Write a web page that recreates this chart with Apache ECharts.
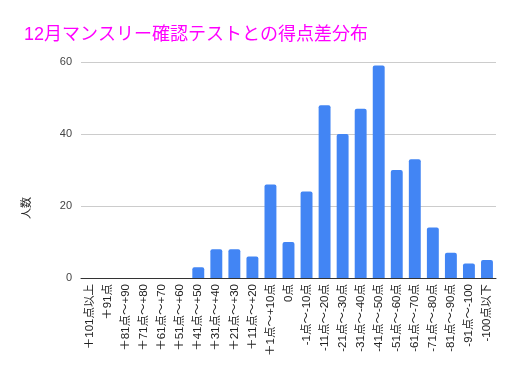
<!DOCTYPE html>
<html><head><meta charset="utf-8">
<script src="https://cdn.jsdelivr.net/npm/echarts@6/dist/echarts.min.js"></script>
<style>html,body{margin:0;padding:0;background:#fff}#c{width:518px;height:379px}</style>
</head><body><div id="c"></div>
<script>
const categories = ['＋101点以上','＋91点','＋81点～+90','＋71点～+80','＋61点～+70','＋51点～+60','＋41点～+50','＋31点～+40','＋21点～+30','＋11点～+20','＋1点～+10点','0点','-1点～-10点','-11点～-20点','-21点～-30点','-31点～-40点','-41点～-50点','-51点～-60点','-61点～-70点','-71点～-80点','-81点～-90点','-91点～-100','-100点以下'];
const counts = [0,0,0,0,0,0,3,8,8,6,26,10,24,48,40,47,59,30,33,14,7,4,5];
const yTicks = [0,20,40,60];
const titleText = '12月マンスリー確認テストとの得点差分布';
const yName = '人数';
const FONT = '"Liberation Sans", Arial, "Noto Sans CJK JP", sans-serif';
const chart = echarts.init(document.getElementById('c'));
chart.setOption({
  animation:false,
  textStyle:{fontFamily:FONT},
  title:{text:titleText,left:19,top:21,textStyle:{color:'#ff00ff',fontSize:18,fontWeight:'normal',fontFamily:FONT}},
  graphic:[{type:'text',left:21,top:197,rotation:Math.PI/2,style:{text:yName,fontSize:11,fill:'#222',fontFamily:FONT}}],
  grid:{left:81,right:22,top:62,bottom:101},
  xAxis:{type:'category',data:categories,
    axisLine:{lineStyle:{color:'#333'}},axisTick:{show:false},
    axisLabel:{rotate:90,interval:0,fontSize:11.5,color:'#222',margin:6,fontFamily:FONT}},
  yAxis:{type:'value',min:yTicks[0],max:yTicks[yTicks.length-1],interval:20,
    axisLine:{show:false},axisTick:{show:false},
    splitLine:{lineStyle:{color:'#cccccc'}},
    axisLabel:{fontSize:11,color:'#444',margin:9,fontFamily:FONT}},
  series:[{type:'bar',data:counts,barCategoryGap:'34%',
    itemStyle:{color:'#4285f4',borderRadius:[2,2,0,0]}}]
});
</script></body></html>
